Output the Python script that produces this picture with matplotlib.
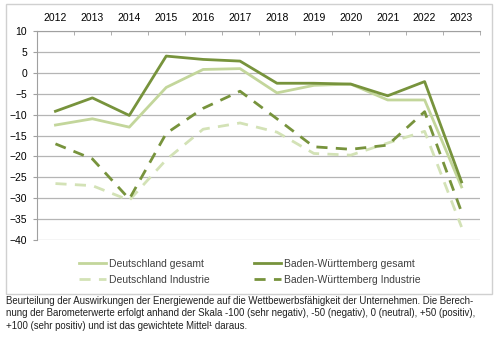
import matplotlib.pyplot as plt
from matplotlib.patches import Rectangle

years = ['2012', '2013', '2014', '2015', '2016', '2017',
         '2018', '2019', '2020', '2021', '2022', '2023']
de_gesamt = [-12.5, -11, -13, -3.5, 0.8, 1, -4.8, -3, -2.7, -6.5, -6.5, -27.3]
bw_gesamt = [-9.2, -6, -10.2, 4, 3.2, 2.8, -2.5, -2.5, -2.7, -5.5, -2.1, -26.1]
de_industrie = [-26.5, -27, -30.5, -20.8, -13.5, -12, -14.2, -19.3, -19.7, -16.8, -14, -36.9]
bw_industrie = [-17, -20.6, -30.2, -14.5, -8.5, -4.4, -11, -17.7, -18.3, -17.3, -9.3, -33.3]

c_light = '#c3d69b'
c_dark = '#77933c'
c_light_d = '#d3e2b6'

fig = plt.figure(figsize=(5, 3.4), dpi=100)
plt.rcParams['font.family'] = ['Liberation Sans', 'DejaVu Sans']

# Rahmen um Diagramm
fig.patches.append(Rectangle((6 / 500, 1 - 294 / 340), 486 / 500, 290 / 340,
                             transform=fig.transFigure, fill=False,
                             edgecolor='#d0d0d0', linewidth=1))

ax = fig.add_axes([37 / 500, 1 - 240 / 340, 443 / 500, 209 / 340])
x = list(range(len(years)))
ax.plot(x, de_gesamt, color=c_light, lw=2, label='Deutschland gesamt')
ax.plot(x, bw_gesamt, color=c_dark, lw=2, label='Baden-Württemberg gesamt')
ax.plot(x, de_industrie, color=c_light_d, lw=2, dashes=(4, 3), label='Deutschland Industrie')
ax.plot(x, bw_industrie, color=c_dark, lw=2, dashes=(4, 3), label='Baden-Württemberg Industrie')

ax.set_xlim(-0.5, len(years) - 0.5)
ax.set_ylim(-40, 10)
ax.set_yticks(range(-40, 11, 5))
ax.yaxis.grid(True, color='#b5b5b5', lw=0.9)
ax.set_axisbelow(True)
for s in ['right', 'bottom']:
    ax.spines[s].set_visible(False)
ax.spines['left'].set_color('#a0a0a0')
ax.spines['top'].set_color('#a0a0a0')
ax.tick_params(axis='y', length=3, color='#a0a0a0', labelsize=7.5, pad=4)

# Kategorienachse oben
ax.xaxis.tick_top()
ax.set_xticks(x)
ax.set_xticklabels(years, fontsize=7.5)
ax.tick_params(axis='x', length=0, pad=6)
ax.set_xticks([i - 0.5 for i in range(len(years) + 1)], minor=True)
ax.tick_params(axis='x', which='minor', direction='in', length=3, color='#a0a0a0', top=True)

handles, labels = ax.get_legend_handles_labels()
order = [0, 2, 1, 3]
fig.legend([handles[i] for i in order], [labels[i] for i in order],
           loc='center', bbox_to_anchor=(0.5, 1 - 272 / 340), ncol=2,
           frameon=False, fontsize=7.5, handlelength=2.6, handletextpad=0.3,
           columnspacing=4.2, labelspacing=0.6, labelcolor='#404040')

caption = ('Beurteilung der Auswirkungen der Energiewende auf die Wettbewerbsfähigkeit der Unternehmen. Die Berech-\n'
           'nung der Barometerwerte erfolgt anhand der Skala -100 (sehr negativ), -50 (negativ), 0 (neutral), +50 (positiv),\n'
           '+100 (sehr positiv) und ist das gewichtete Mittel¹ daraus.')
fig.text(6 / 500, 1 - 296 / 340, caption, fontsize=6.9, va='top', ha='left',
         linespacing=1.3, color='#202020')

fig.savefig('out.png', dpi=100)
